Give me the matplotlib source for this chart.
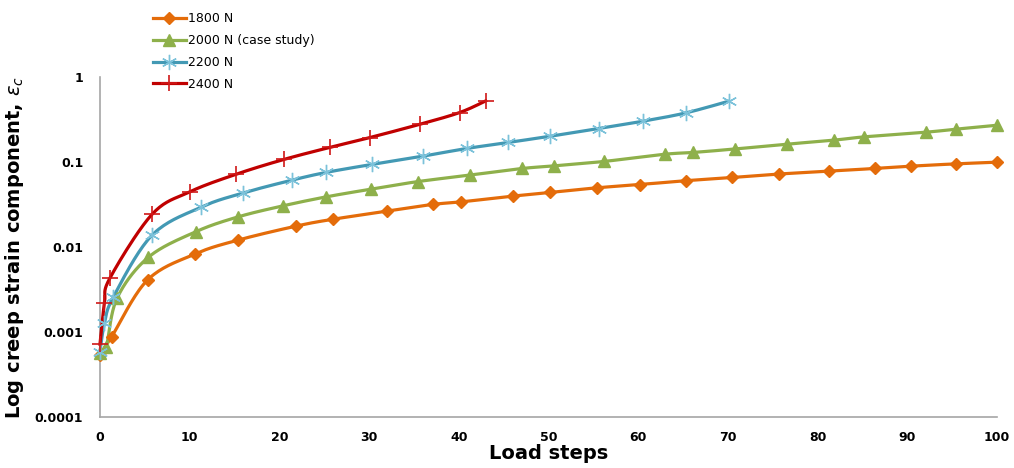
import numpy as np
import matplotlib
matplotlib.use('Agg')
import matplotlib.pyplot as plt

# values
x_1800 = [0, 1.3, 5.3, 10.6, 15.4, 21.9, 26.0, 32.0, 37.1, 40.3, 46.0, 50.2, 55.4,
          60.2, 65.3, 70.5, 75.7, 81.3, 86.4, 90.4, 95.4, 100]
y_1800 = [0.00054, 0.00088, 0.0041, 0.0083, 0.0121, 0.0177, 0.0213, 0.0265, 0.0318,
          0.0341, 0.0398, 0.044, 0.0499, 0.0545, 0.0605, 0.066, 0.0725, 0.0784,
          0.0843, 0.0897, 0.0955, 0.1]

x_2000 = [0, 0.7, 1.9, 5.4, 10.7, 15.4, 20.4, 25.2, 30.2, 35.4, 41.2, 47.1, 50.6,
          56.2, 63.0, 66.1, 70.8, 76.6, 81.8, 85.2, 92.1, 95.4, 100]
y_2000 = [0.00056, 0.00067, 0.0025, 0.0076, 0.0152, 0.0227, 0.0306, 0.039, 0.0481,
          0.059, 0.0703, 0.0843, 0.0904, 0.102, 0.124, 0.130, 0.143, 0.163, 0.1815,
          0.1985, 0.2254, 0.2445, 0.272]

x_2200 = [0, 0.5, 1.5, 5.8, 11.3, 16.0, 21.4, 25.2, 30.3, 36.0, 40.9, 45.5, 50.2,
          55.6, 60.5, 65.3, 70.1]
y_2200 = [0.00059, 0.00127, 0.0026, 0.0138, 0.0296, 0.0435, 0.0614, 0.0757, 0.094,
          0.1177, 0.145, 0.1705, 0.202, 0.249, 0.303, 0.38, 0.522]

x_2400 = [0, 0.5, 1.1, 5.8, 10.0, 15.2, 20.5, 25.6, 30.1, 35.7, 40.1, 43.0]
y_2400 = [0.00072, 0.0022, 0.0043, 0.0243, 0.0447, 0.0722, 0.1076, 0.149, 0.195,
          0.28, 0.384, 0.526]

labels = ['1800 N', '2000 N (case study)', '2200 N', '2400 N']


def smooth(xs, ys, n=20):
    # parametric Catmull-Rom through the points, in (x, log y) space
    p = np.column_stack([xs, np.log10(ys)])
    p = np.vstack([p[0], p, p[-1]])
    out = []
    t = np.linspace(0, 1, n, endpoint=False)[:, None]
    for i in range(1, len(p) - 2):
        p0, p1, p2, p3 = p[i - 1], p[i], p[i + 1], p[i + 2]
        seg = 0.5 * ((2 * p1) + (-p0 + p2) * t
                     + (2 * p0 - 5 * p1 + 4 * p2 - p3) * t ** 2
                     + (-p0 + 3 * p1 - 3 * p2 + p3) * t ** 3)
        out.append(seg)
    out.append(p[-2][None, :])
    out = np.vstack(out)
    return out[:, 0], 10 ** out[:, 1]


fig = plt.figure(figsize=(10.14, 4.68), dpi=100)
ax = fig.add_axes([0.0986, 0.109, 0.8846, 0.726])

series = [
    (x_1800, y_1800, '#E46C0A', dict(marker='D', markersize=6, mfc='#E46C0A', mec='#E46C0A')),
    (x_2000, y_2000, '#8EB04B', dict(marker='^', markersize=8.5, mfc='#8EB04B', mec='#8EB04B')),
    (x_2200, y_2200, '#4399B4', dict(marker=(6, 2, 0), markersize=11, mfc='none', mec='#7CC2DA', mew=1.0)),
    (x_2400, y_2400, '#C00000', dict(marker='+', markersize=12, mfc='none', mec='#D01818', mew=1.2)),
]

handles = []
for (xs, ys, col, mk), lab in zip(series, labels):
    sx, sy = smooth(xs, ys)
    ax.plot(sx, sy, color=col, lw=2.3, clip_on=False, zorder=3)
    ax.plot(xs, ys, ls='none', clip_on=False, zorder=4, **mk)
    h, = ax.plot([], [], color=col, lw=2.3, **mk)
    handles.append(h)

ax.set_yscale('log')
ax.set_ylim(0.0001, 1)
ax.set_xlim(0, 100)
ax.set_xticks(range(0, 101, 10))
ax.set_yticks([0.0001, 0.001, 0.01, 0.1, 1])
ax.set_yticklabels(['0.0001', '0.001', '0.01', '0.1', '1'])
ax.minorticks_off()
ax.tick_params(axis='y', length=0, pad=12, labelsize=9)
ax.tick_params(axis='x', length=0, pad=10, labelsize=9)
for t in ax.get_xticklabels() + ax.get_yticklabels():
    t.set_fontweight('bold')

for s in ['top', 'right']:
    ax.spines[s].set_visible(False)
for s in ['left', 'bottom']:
    ax.spines[s].set_color('#A6A6A6')
    ax.spines[s].set_linewidth(1.2)

ax.set_xlabel('Load steps', fontsize=14, fontweight='bold', labelpad=0)
ax.set_ylabel(r'Log creep strain component, $\varepsilon_c$', fontsize=14,
              fontweight='bold', labelpad=6)

fig.legend(handles, labels, loc='upper left', bbox_to_anchor=(0.146, 0.984),
           frameon=False, fontsize=9, labelspacing=0.7, handlelength=2.6,
           handletextpad=0.2, borderaxespad=0)

fig.savefig('out.png', dpi=100)
